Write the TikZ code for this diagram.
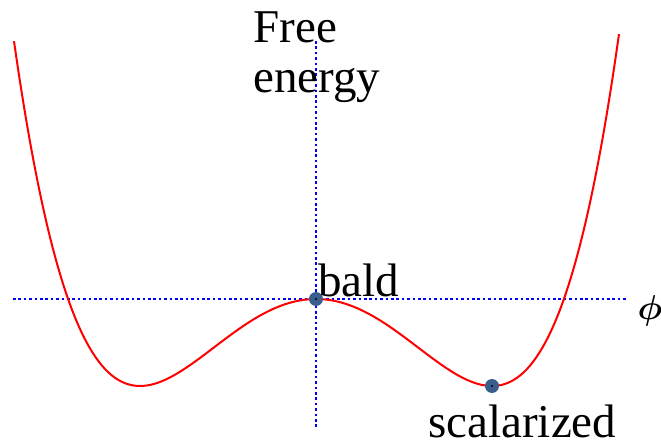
\documentclass[tikz,border=0pt]{standalone}
\usepackage{amsmath,amssymb}
\usepackage{fontspec}
\setmainfont{Liberation Serif}
\usepackage{tikz}
\usetikzlibrary{positioning}
\definecolor{statefill}{RGB}{58,95,140}

\begin{document}
\begin{tikzpicture}[x=0.5pt, y=0.5pt,
          axis/.style={blue, line width=0.75pt, dash pattern=on 1.3pt off 1.4pt},
          curve/.style={red, line width=1pt},
          state/.style={circle, fill=statefill, inner sep=0pt, minimum size=7pt},
          lbl/.style={font=\fontsize{23.5}{28}\selectfont, anchor=base west, inner sep=0pt}
        ]
          \useasboundingbox (-316,-147) rectangle (345,299);
          % axes
          \coordinate (vtop) at (0,258);
          \coordinate (vbot) at (0,-129);
          \coordinate (hleft) at (-303,0);
          \coordinate (hright) at (311,0);
          \draw[axis] (vtop) -- (vbot);
          \draw[axis] (hleft) -- (hright);
          \node[font=\fontsize{16}{18}\selectfont, inner sep=0pt] (phi) at (334,-12) {$\boldsymbol{\phi}$};
          % free energy curve
          \draw[curve] plot[domain=-302:303, samples=151, smooth]
                     ({\x}, {(-172.57 + (84.14 + 1.43*(\x/176)*(\x/176))*(\x/176)*(\x/176))*(\x/176)*(\x/176)});
          % states
          \node[state] (bald) at (0,0) {};
          \node[state] (scal) at (176,-87) {};
          \fill (bald) circle (0.6pt);
          \fill (scal) circle (0.6pt);
          % labels
          \node[lbl] (free) at (-63,257) {Free};
          \node[lbl] (energy) at (-63,207) {energy};
          \node[lbl] (baldtxt) at (2,3) {bald};
          \node[lbl] (scaltxt) at (112,-138) {scalarized};
        \end{tikzpicture}
\end{document}
